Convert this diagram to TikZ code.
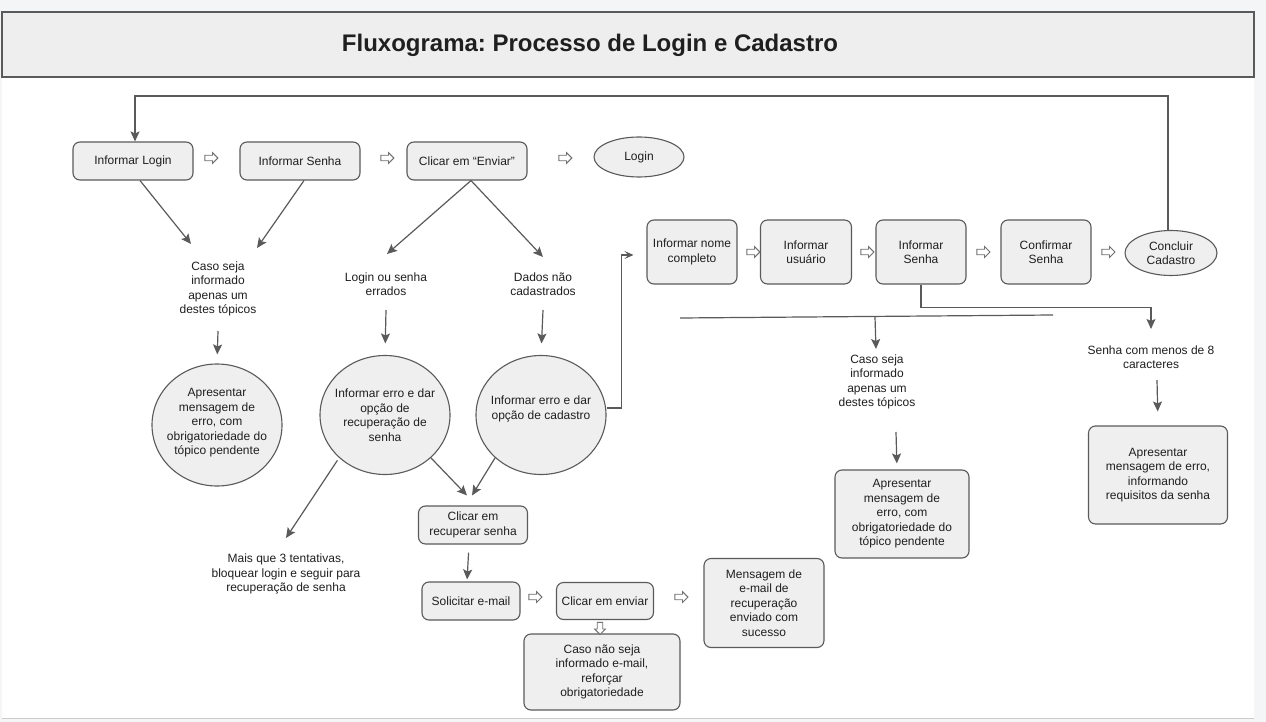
\documentclass[tikz,border=0pt]{standalone}
\usepackage{fontspec}
\setmainfont{Liberation Sans}
\usetikzlibrary{shapes.geometric,shapes.arrows,arrows.meta}
\definecolor{nodefill}{HTML}{EFEFEF}
\definecolor{edge}{HTML}{5A5A5A}
\definecolor{ink}{HTML}{1F1F1F}
\definecolor{pagebg}{HTML}{F4F5F6}
\definecolor{titlefill}{HTML}{EEEEEE}
\definecolor{hollow}{HTML}{707070}
\frenchspacing
\begin{document}
\begin{tikzpicture}[x=1pt,y=-1pt,
  box/.style={draw=edge,fill=nodefill,rounded corners=7pt,line width=1.1pt,inner sep=0pt,align=center,text=ink,font=\fontsize{12}{14.5}\selectfont},
  oval/.style={draw=edge,fill=nodefill,ellipse,line width=1.1pt,inner sep=0pt,align=center,text=ink,font=\fontsize{12}{14.5}\selectfont},
  txt/.style={align=center,text=ink,font=\fontsize{12}{14.5}\selectfont,inner sep=0pt},
  arr/.style={draw=edge,line width=1.2pt,-{Stealth[length=10pt,width=9pt,inset=2pt]}},
  plainline/.style={draw=edge,line width=1.2pt},
  harr/.style={single arrow,draw=hollow,fill=white,line width=0.9pt,inner xsep=0pt,inner ysep=2.3pt,minimum height=13pt,single arrow head extend=2.6pt,single arrow head indent=0pt},
  darr/.style={single arrow,draw=hollow,fill=white,line width=0.9pt,inner xsep=2.3pt,inner ysep=0pt,minimum height=12pt,single arrow head extend=2.6pt,single arrow head indent=0pt,shape border rotate=270},
]
\useasboundingbox (0,0) rectangle (1266,722);
\fill[pagebg] (0,0) rectangle (1266,722);
\fill[white] (2,12) rectangle (1254,718);
\draw[black!20,line width=1pt] (2,718) -- (1254,718);
% title
\node[draw=edge,fill=titlefill,line width=1.1pt,minimum width=1252,minimum height=65,inner sep=0pt] (titlebar) at (628,44.5) {};
\node[font=\bfseries\fontsize{24}{28}\selectfont,text=ink,inner sep=0pt] (title) at (590,45) {Fluxograma: Processo de Login e Cadastro};

% top row
\node[box,minimum width=120,minimum height=38] (ilogin) at (133,161) {Informar Login};
\node[box,minimum width=120,minimum height=38] (isenha1) at (300,161) {Informar Senha};
\node[box,minimum width=120,minimum height=38] (clicar) at (467,161) {Clicar em “Enviar”};
\node[oval,minimum width=90,minimum height=40] (loginE) at (639,157) {Login};
\node[harr] (h1) at (210,158) {};
\node[harr] (h2) at (386,158) {};
\node[harr] (h3) at (564,158) {};

% labels
\node[txt] (caso1) at (218,289) {Caso seja\\informado\\apenas um\\destes tópicos};
\node[txt] (lse) at (386,284) {Login ou senha\\errados};
\node[txt] (dnc) at (543,284) {Dados não\\cadastrados};
\node[txt] (mais) at (286,574) {Mais que 3 tentativas,\\bloquear login e seguir para\\recuperação de senha};

% circles
\node[oval,minimum width=130,minimum height=122] (apres1) at (217,425) {};
\node[txt] (apres1t) at (217,423) {Apresentar\\mensagem de\\erro, com\\obrigatoriedade do\\tópico pendente};
\node[oval,minimum width=130,minimum height=119] (inferr1) at (385,415) {};
\node[txt] (inferr1t) at (385,415) {Informar erro e dar\\opção de\\recuperação de\\senha};
\node[oval,minimum width=130,minimum height=119] (inferr2) at (541,415) {};
\node[txt] (inferr2t) at (541,409) {Informar erro e dar\\opção de cadastro};

% recovery
\node[box,minimum width=109,minimum height=38] (clicrec) at (473,525) {Clicar em\\recuperar senha};
\node[box,minimum width=98,minimum height=38] (solic) at (471,601) {Solicitar e-mail};
\node[box,minimum width=97,minimum height=37] (clicenv) at (605,601) {Clicar em enviar};
\node[box,minimum width=120,minimum height=89] (msgsuc) at (764,603) {Mensagem de\\e-mail de\\recuperação\\enviado com\\sucesso};
\node[box,minimum width=156,minimum height=76] (cason) at (602,672) {Caso não seja\\informado e-mail,\\reforçar\\obrigatoriedade};
\node[harr] (h4) at (534,597) {};
\node[harr] (h5) at (680,597) {};
\node[darr] (h6) at (600,627) {};

% cadastro row
\node[box,minimum width=90,minimum height=64] (inome) at (692,252) {Informar nome\\completo};
\node[box,minimum width=91,minimum height=64] (iusu) at (806,252) {Informar\\usuário};
\node[box,minimum width=90,minimum height=64] (isenha2) at (921,252) {Informar\\Senha};
\node[box,minimum width=90,minimum height=64] (confs) at (1046,252) {Confirmar\\Senha};
\node[oval,minimum width=92,minimum height=45] (concl) at (1171,253) {Concluir\\Cadastro};
\node[harr] (h7) at (752,252) {};
\node[harr] (h8) at (866,252) {};
\node[harr] (h9) at (982,252) {};
\node[harr] (h10) at (1107,252) {};

\node[txt] (senha8) at (1151,357) {Senha com menos de 8\\caracteres};
\node[txt] (caso2) at (877,382) {Caso seja\\informado\\apenas um\\destes tópicos};
\node[box,minimum width=134,minimum height=88] (apres2) at (902,514) {Apresentar\\mensagem de\\erro, com\\obrigatoriedade do\\tópico pendente};
\node[box,minimum width=139,minimum height=98] (apres3) at (1158,475) {Apresentar\\mensagem de erro,\\informando\\requisitos da senha};

% coordinates for free ends
\coordinate (topY) at (0,96);
\coordinate (c1a) at (191,244);
\coordinate (c1b) at (257,248);
\coordinate (c2a) at (387,254);
\coordinate (c2b) at (543,257);
\coordinate (k1) at (218,331);
\coordinate (k2) at (386,310);
\coordinate (k3) at (543,310);
\coordinate (mtip) at (286,538);
\coordinate (s8in) at (1151,329);
\coordinate (barL) at (680,318);
\coordinate (barR) at (1053,315);
\coordinate (barM) at (875,317);
\coordinate (c2in) at (876,349);
\coordinate (k4) at (896,432);
\coordinate (k5) at (1157,380);

% connectors
\draw[arr] ([xshift=-3]concl.north) -- ([xshift=-3]concl.north |- topY) -| ([xshift=2]ilogin.north);
\draw[arr] ([xshift=7]ilogin.south) -- (c1a);
\draw[arr] ([xshift=4]isenha1.south) -- (c1b);
\draw[arr] ([xshift=4]clicar.south) -- (c2a);
\draw[arr] ([xshift=4]clicar.south) -- (c2b);
\draw[arr,shorten >=9pt] (k1) -- (apres1.north);
\draw[arr,shorten >=11.5pt] (k2) -- (inferr1.north);
\draw[arr,shorten >=11.5pt] (k3) -- (inferr2.north);
\draw[arr] (inferr1.-43) -- ([xshift=-6,yshift=10]clicrec.north);
\draw[arr] (inferr2.-137) -- ([xshift=-1,yshift=10]clicrec.north);
\draw[arr,shorten <=3pt] (inferr1.-137) -- (mtip);
\draw[draw=edge,line width=1.2pt,-{Stealth[length=9pt,width=8pt,inset=4pt]}] ([yshift=7]inferr2.east) -- ++(15,0) |- ([xshift=-13,yshift=-3]inome.west);
\draw[arr,shorten <=8pt,shorten >=2pt] ([xshift=-4]clicrec.south) -- ([xshift=-4]solic.north);
\draw[arr] (isenha2.south) -- ++(0,23) -| (s8in);
\draw[plainline] (barL) -- (barR);
\draw[arr] (barM) -- (c2in);
\draw[arr,shorten >=6pt] (k4) -- ([xshift=-5]apres2.north);
\draw[arr,shorten >=14pt] (k5) -- (apres3.north);
\end{tikzpicture}
\end{document}
